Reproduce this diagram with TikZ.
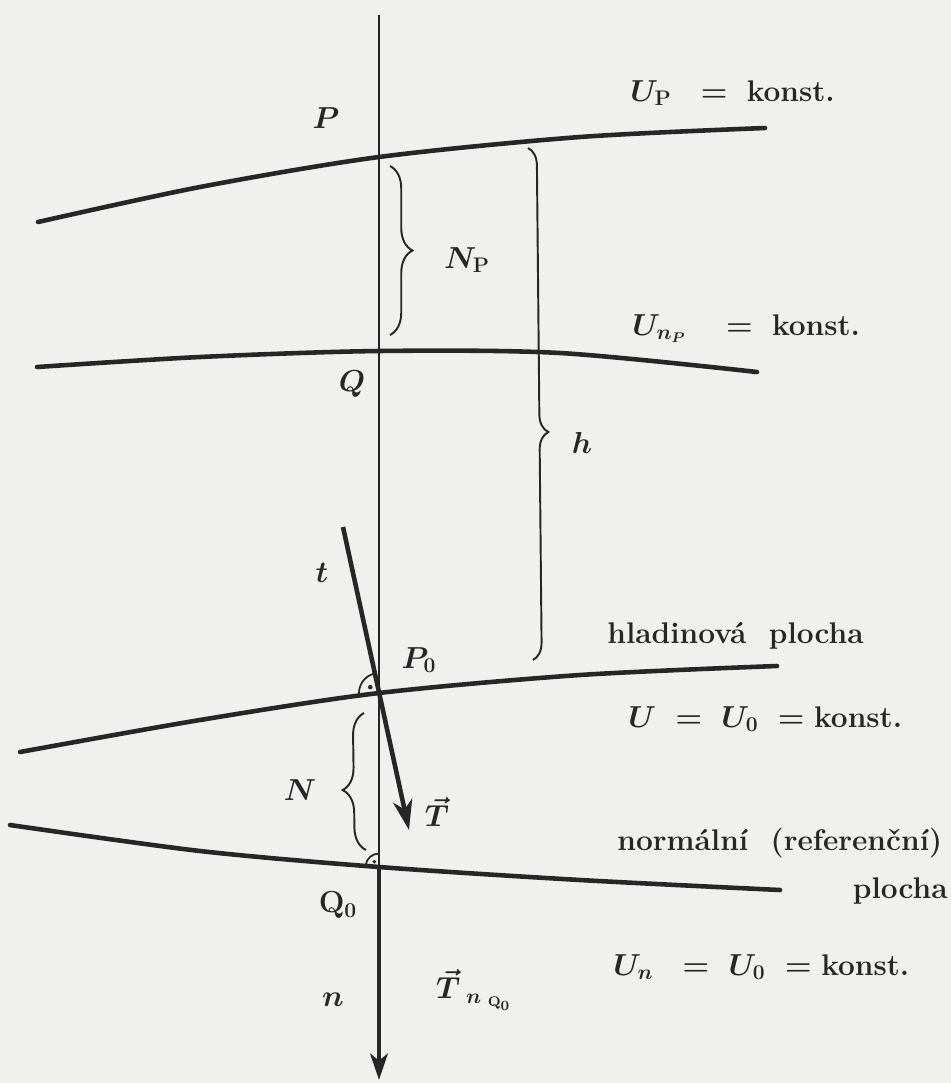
\documentclass[tikz,border=0pt]{standalone}
\usetikzlibrary{arrows.meta,decorations.pathreplacing}
\definecolor{ink}{HTML}{262626}
\definecolor{paper}{HTML}{F0F0EE}
\begin{document}
\begin{tikzpicture}[x=0.02cm,y=-0.02cm,
  surf/.style={draw=ink, line width=2.6pt, line cap=round},
  axis/.style={draw=ink, line width=1pt},
  vecarrow/.style={draw=ink, line width=2.6pt, -{Stealth[length=17pt,width=11pt,inset=5pt]}},
  br/.style={draw=ink, decorate, line width=1.1pt},
  rmark/.style={draw=ink, line width=1pt},
  lbl/.style={inner sep=0pt, text=ink, font=\fontsize{17}{20}\selectfont\bfseries\boldmath},
  ]
\useasboundingbox (0,0) rectangle (951,1083);
\fill[paper] (0,0) rectangle (951,1083);

% key points
\coordinate (top) at (379,15);
\coordinate (P) at (379,157);
\coordinate (Q) at (379,351);
\coordinate (P0) at (379,693);
\coordinate (Q0) at (379,867);
\coordinate (nend) at (379,1080);
\coordinate (ttop) at (343,527);
\coordinate (ttip) at (409,830);

% surfaces
\draw[surf] plot[smooth] coordinates {(38,222) (200,187) (379,157) (580,137) (765,128)};
\draw[surf] plot[smooth] coordinates {(37,367) (200,357) (379,351) (560,353) (757,372)};
\draw[surf] plot[smooth] coordinates {(20,752) (200,720) (379,693) (580,675) (777,666)};
\draw[surf] plot[smooth] coordinates {(10,825) (200,851) (379,867) (580,880) (780,890)};

% vertical line and normal arrow
\draw[axis] (top) -- (Q0);
\draw[vecarrow, -{Stealth[length=15pt,width=10pt,inset=4pt]}] (Q0) -- (nend);

% tilted arrow t
\draw[vecarrow] (ttop) -- (ttip);

% right angle marks
\draw[rmark] (P0) ++(102.6:0.4cm) arc[start angle=102.6, end angle=189.3, radius=0.4cm];
\fill[ink] (P0) ++(146:0.21cm) circle[radius=1.3pt];
\draw[rmark] (Q0) ++(90:0.27cm) arc[start angle=90, end angle=173, radius=0.27cm];
\fill[ink] (Q0) ++(131:0.14cm) circle[radius=1.1pt];

% braces
\draw[br, decoration={brace, amplitude=0.45cm}] (390,166) -- (390,335);
\draw[br, decoration={brace, amplitude=0.35cm, aspect=0.555}] (528,148) -- (533,660);
\draw[br, decoration={brace, amplitude=0.45cm, aspect=0.44}] (366,850) -- (364,713);

% point labels
\node[lbl] (lP) at (326,118) {$P$};
\node[lbl] (lQ) at (352,384) {$Q$};
\node[lbl] (lNP) at (467,260) {$N_{\mathrm{P}}$};
\node[lbl] (lh) at (582,443) {$h$};
\node[lbl] (lt) at (322,573) {$t$};
\node[lbl] (lP0) at (419,660) {$P_0$};
\node[lbl] (lN) at (300,790) {$N$};
\node[lbl] (lT) at (437,812) {$\vec{T}$};
\node[lbl] (lQ0) at (338,905) {$\mathrm{Q}_0$};
\node[lbl] (ln) at (333,1000) {$n$};
\node[lbl] (lTn) at (474,990) {$\vec{T}\,{}_{n\;{}_{\mathrm{Q}_0}}$};

% right-hand texts
\node[lbl, anchor=base west] (kP) at (630,101) {$U_{\mathrm{P}}\;\;=\;\;$konst.};
\node[lbl, anchor=base west] (knP) at (632,335) {$U_{n_P}\quad=\;\;$konst.};
\node[lbl, anchor=base west] (hp) at (607,643) {hladinová\ \ plocha};
\node[lbl, anchor=base west] (kU0) at (628,727) {$U\;=\;U_0\;=\;$konst.};
\node[lbl, anchor=base west] (nr) at (617,850) {normální\ \ (referenční)};
\node[lbl, anchor=base east] (pl) at (948,898) {plocha};
\node[lbl, anchor=base west] (kUn) at (613,975) {$U_n\;\;=\;U_0\;=\;$konst.};
\end{tikzpicture}
\end{document}
